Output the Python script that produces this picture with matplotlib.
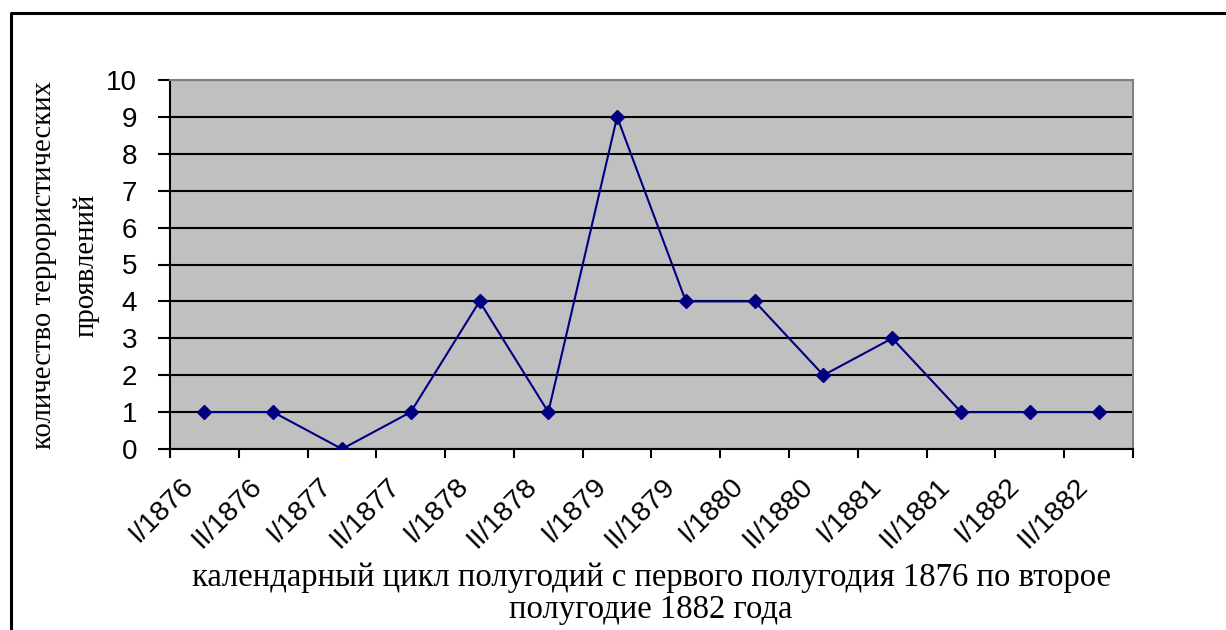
import matplotlib
matplotlib.use("Agg")
import matplotlib.pyplot as plt
import matplotlib.transforms as mtransforms
from matplotlib.lines import Line2D

# half-year periods and number of terrorist acts
periods = ["I/1876", "II/1876", "I/1877", "II/1877", "I/1878", "II/1878", "I/1879",
           "II/1879", "I/1880", "II/1880", "I/1881", "II/1881", "I/1882", "II/1882"]
counts = [1, 1, 0, 1, 4, 1, 9, 4, 4, 2, 3, 1, 1, 1]
y_ticks = list(range(0, 11))

ylabel_lines = ["количество террористических", "проявлений"]
xlabel_lines = ["календарный цикл полугодий с первого полугодия 1876 по второе",
                "полугодие 1882 года"]

W, H = 1226, 630
fig = plt.figure(figsize=(W / 100, H / 100), dpi=100)
ax = fig.add_axes([170 / W, 1 - 449 / H, 963 / W, 369 / H])

ax.set_facecolor("#c0c0c0")
x = list(range(len(periods)))
ax.plot(x, counts, color="#000080", lw=1.5, marker="D", ms=7.5,
        markerfacecolor="#000080", markeredgecolor="#000080", zorder=3)

ax.set_xlim(-0.5, len(periods) - 0.5)
ax.set_ylim(0, 10)
ax.set_yticks(y_ticks)
ax.yaxis.grid(True, color="black", lw=1.5)
ax.set_axisbelow(True)

# category labels at centers, boundary ticks as minor
ax.set_xticks(x)
ax.set_xticklabels(periods, rotation=45, ha="right", va="center",
                   rotation_mode="anchor", fontsize=20.5, family="Liberation Sans")
ax.set_xticks([i - 0.5 for i in range(len(periods) + 1)], minor=True)
ax.tick_params(axis="x", which="major", length=0, pad=24)
ax.tick_params(axis="x", which="minor", length=6.5, width=1.5, direction="out")
ax.tick_params(axis="y", length=8.5, width=1.5, direction="out", pad=15,
               labelsize=20)
for lab in ax.get_yticklabels():
    lab.set_family("Liberation Sans")

shift = mtransforms.ScaledTranslation(-15 / 100, 0, fig.dpi_scale_trans)
for lab in ax.get_xticklabels():
    lab.set_transform(lab.get_transform() + shift)

for side in ("left", "bottom"):
    ax.spines[side].set_color("black")
    ax.spines[side].set_linewidth(1.5)
for side in ("top", "right"):
    ax.spines[side].set_color("#808080")
    ax.spines[side].set_linewidth(1.5)

serif = "Liberation Serif"
fig.text(44 / W, 1 - 265 / H, ylabel_lines[0], rotation=90, ha="center",
         va="center", fontsize=20.7, family=serif)
fig.text(86 / W, 1 - 265 / H, ylabel_lines[1], rotation=90, ha="center",
         va="center", fontsize=20.7, family=serif)
fig.text(651 / W, 1 - 578 / H, xlabel_lines[0], ha="center", va="center",
         fontsize=23.5, family=serif)
fig.text(651 / W, 1 - 610 / H, xlabel_lines[1], ha="center", va="center",
         fontsize=23.5, family=serif)

# outer frame (left and top edges)
fig.add_artist(Line2D([11 / W, 11 / W, 1], [0, 1 - 13 / H, 1 - 13 / H],
                      transform=fig.transFigure, color="black", lw=2.2))

fig.savefig("out.png", dpi=100)
